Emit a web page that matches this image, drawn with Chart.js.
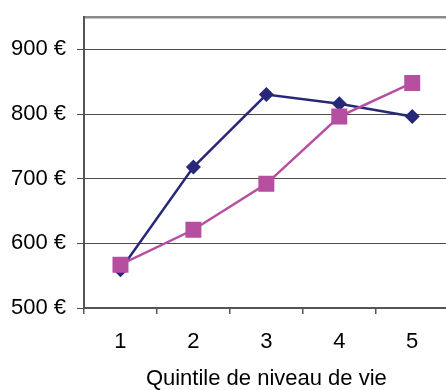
<!DOCTYPE html>
<html><head><meta charset="utf-8">
<script src="https://cdn.jsdelivr.net/npm/chart.js@4"></script>
<style>html,body{margin:0;padding:0;overflow:hidden;background:#fff}#wrap{position:absolute;left:0;top:0;width:460px;height:393px}</style>
</head><body><div id="wrap"><canvas id="c"></canvas></div>
<script>
const categories = ['1', '2', '3', '4', '5'];
const seriesNavy = [559, 718, 830, 816, 796];
const seriesPink = [567, 621, 692, 796, 848];
const yTickValues = [500, 600, 700, 800, 900];
const yMin = 500, yMax = 950;
const xTitle = 'Quintile de niveau de vie';

const FONT = {family: "'Liberation Sans', Arial, sans-serif", size: 22};
const isTop = c => c.tick && c.tick.value === yMax;

new Chart(document.getElementById('c'), {
  type: 'line',
  data: {
    labels: categories,
    datasets: [
      {data: seriesNavy, borderColor: '#282878', backgroundColor: '#282878', borderWidth: 2.5,
       pointStyle: 'rectRot', pointRadius: 7.5, pointHoverRadius: 7.5, pointBorderWidth: 0, tension: 0, order: 2},
      {data: seriesPink, borderColor: '#B64FA0', backgroundColor: '#B64FA0', borderWidth: 2.5,
       pointStyle: 'rect', pointRadius: 11.3, pointHoverRadius: 11.3, pointBorderWidth: 0, tension: 0, order: 1}
    ]
  },
  options: {
    responsive: true, maintainAspectRatio: false, animation: false, devicePixelRatio: 1,
    layout: {padding: {top: 17, left: 0, right: 0, bottom: 0}},
    plugins: {legend: {display: false}, tooltip: {enabled: false}},
    scales: {
      x: {
        type: 'category', offset: true,
        grid: {offset: true, drawOnChartArea: false, color: '#555', tickLength: 6, lineWidth: 1.5},
        border: {color: '#555', width: 2},
        ticks: {color: '#000', font: FONT, padding: 15, maxRotation: 0},
        title: {display: true, text: xTitle, color: '#000', font: FONT, padding: {top: 4, bottom: 1}},
        afterFit: s => { s.height = 85; }
      },
      y: {
        min: yMin, max: yMax,
        afterBuildTicks: s => { s.ticks = yTickValues.concat([yMax]).map(v => ({value: v})); },
        afterFit: s => { s.width = 84; s.paddingTop = 0; s.paddingBottom = 0; },
        ticks: {color: '#000', font: FONT, padding: 11, callback: v => v === yMax ? '' : v + ' €'},
        grid: {
          color: c => isTop(c) ? '#8a8a8a' : '#4d4d4d',
          lineWidth: c => isTop(c) ? 2.5 : 1,
          tickColor: c => isTop(c) ? 'rgba(0,0,0,0)' : '#4d4d4d',
          tickLength: 7
        },
        border: {color: '#555', width: 2}
      }
    }
  }
});
</script></body></html>
